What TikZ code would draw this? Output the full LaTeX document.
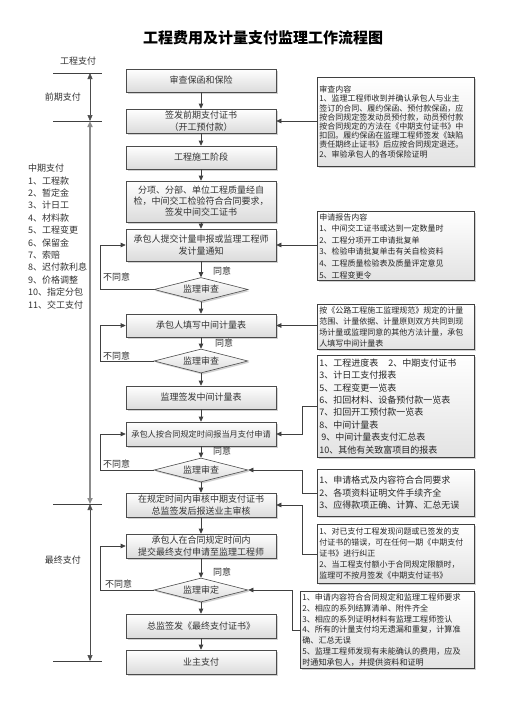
\documentclass[tikz,border=0pt]{standalone}
\usepackage{fontspec}
\setmainfont{Noto Sans CJK SC}
\usetikzlibrary{shapes.geometric,shadows,arrows.meta}
\begin{document}
\begin{tikzpicture}[x=1pt,y=-1pt]
\tikzset{
  shadowed/.style={drop shadow={shadow xshift=1.6pt,shadow yshift=-1.6pt,opacity=0.35}},
  mainbox/.style={shadowed,draw=black!70,line width=0.6pt,top color=white,bottom color=black!14,
    minimum width=150pt,inner sep=1pt,align=center,text=black!80,
    font=\fontsize{9}{11.5}\selectfont},
  dia/.style={shadowed,diamond,draw=black!70,line width=0.6pt,top color=white,bottom color=black!14,
    minimum width=94pt,minimum height=24pt,aspect=3.9,inner sep=0pt,text=black!80,
    font=\fontsize{9}{11}\selectfont},
  notebox/.style={shadowed,draw=black!75,line width=0.6pt,top color=white,bottom color=black!11,
    anchor=north west,align=left,inner xsep=2pt,inner ysep=2pt,text width=153pt,text=black!85},
  link/.style={draw=black!75,line width=0.6pt,-{Triangle[length=5pt,width=4.5pt]}},
  axisline/.style={draw=black!70,line width=0.6pt,{Triangle[length=6pt,width=5pt]}-{Triangle[length=6pt,width=5pt]}},
  tickline/.style={draw=black!75,line width=0.6pt},
  lbl/.style={text=black!80,font=\fontsize{9}{11}\selectfont,inner sep=0pt},
}
\fill[white] (0,0) rectangle (504,713);
\useasboundingbox (0,0) rectangle (504,713);

% title
\node[font=\fontsize{15}{15}\selectfont\bfseries,text=black] (title) at (263,38) {工程费用及计量支付监理工作流程图};

% left axis
\node[lbl] (gczf) at (78,61) {工程支付};
\coordinate (a0) at (90,73);
\coordinate (a1) at (90,121);
\coordinate (a2) at (90,504);
\coordinate (a3) at (90,661);
\draw[tickline] (53,73) -- (102,73);
\draw[tickline] (53,121) -- (102,121);
\draw[tickline] (53,504) -- (102,504);
\draw[tickline] (53,661) -- (102,661);
\draw[axisline] (a0) -- (a1);
\draw[axisline,draw=black!45,line width=1.6pt] (a1) -- (a2);
\draw[axisline] (a2) -- (a3);
\node[lbl] (qqzf) at (63,97) {前期支付};
\node[lbl,anchor=north west,align=left,font=\fontsize{9}{12.4}\selectfont] (zqzf) at (28,164)
 {中期支付\\1、工程款\\2、暂定金\\3、计日工\\4、材料款\\5、工程变更\\6、保留金\\7、索赔\\8、迟付款利息\\9、价格调整\\10、指定分包\\11、交工支付};
\node[lbl] (zzzf) at (63,560) {最终支付};

% main column
\node[mainbox,minimum height=23pt] (b1) at (201,80.5) {审查保函和保险};
\node[mainbox,minimum height=24pt] (b2) at (201,121) {签发前期支付证书\\（开工预付款）};
\node[mainbox,minimum height=23pt] (b3) at (201,157.5) {工程施工阶段};
\node[mainbox,minimum height=41pt,font=\fontsize{9}{11}\selectfont] (b4) at (201,201.5) {分项、分部、单位工程质量经自\\检，中间交工检验符合合同要求，\\签发中间交工证书};
\node[mainbox,minimum height=32pt] (b5) at (201,245) {承包人提交计量申报或监理工程师\\发计量通知};
\node[dia] (d1) at (201,289.5) {监理审查};
\node[mainbox,minimum height=23pt] (b6) at (201,325.5) {承包人填写中间计量表};
\node[dia] (d2) at (201,361) {监理审查};
\node[mainbox,minimum height=23pt] (b7) at (201,397.5) {监理签发中间计量表};
\node[mainbox,minimum height=24pt,font=\fontsize{8.2}{10}\selectfont] (b8) at (201,434) {承包人按合同规定时间报当月支付申请};
\node[dia] (d3) at (201,470) {监理审查};
\node[mainbox,minimum height=24pt] (b9) at (201,505) {在规定时间内审核中期支付证书\\总监签发后报送业主审核};
\node[mainbox,minimum height=24pt] (b10) at (201,546) {承包人在合同规定时间内\\提交最终支付申请至监理工程师};
\node[dia] (d4) at (201,590) {监理审定};
\node[mainbox,minimum height=24pt] (b11) at (201,626) {总监签发《最终支付证书》};
\node[mainbox,minimum height=24pt] (b12) at (201,662) {业主支付};

\draw[link] (b1) -- (b2);
\draw[link] (b2) -- (b3);
\draw[link] (b3) -- (b4);
\draw[link] (b4) -- (b5);
\draw[link] (b5) -- (d1);
\draw[link] (d1) -- (b6);
\draw[link] (b6) -- (d2);
\draw[link] (d2) -- (b7);
\draw[link] (b7) -- (b8);
\draw[link] (b8) -- (d3);
\draw[link] (d3) -- (b9);
\draw[link] (b9) -- (b10);
\draw[link] (b10) -- (d4);
\draw[link] (d4) -- (b11);
\draw[link] (b11) -- (b12);

% agree labels
\node[lbl] (ty1) at (222,271) {同意};
\node[lbl] (ty2) at (224,343) {同意};
\node[lbl] (ty3) at (222,451) {同意};
\node[lbl] (ty4) at (222,572) {同意};

% disagree loops
\draw[link] (d1.west) -- ++(-53,0) |- (b5.west);
\draw[link] (d2.west) -- ++(-53,0) |- (b6.west);
\draw[link] (d3.west) -- ++(-53,0) |- (b8.west);
\draw[link] (d4.west) -- ++(-53,0) |- (b10.west);
\node[lbl,anchor=west] (bty1) at (103,277) {不同意};
\node[lbl,anchor=west] (bty2) at (103,356) {不同意};
\node[lbl,anchor=west] (bty3) at (103,464) {不同意};
\node[lbl,anchor=west] (bty4) at (105,584) {不同意};

% right notes
\node[notebox,minimum height=89pt,font=\fontsize{8}{9.2}\selectfont] (r1) at (317,77)
 {审查内容\\1、监理工程师收到并确认承包人与业主\\签订的合同、履约保函、预付款保函，应\\按合同规定签发动员预付款，动员预付款\\按合同规定的方法在《中期支付证书》中\\扣回。履约保函在监理工程师签发《缺陷\\责任期终止证书》后应按合同规定退还。\\2、审验承包人的各项保险证明};
\node[notebox,minimum height=69pt,font=\fontsize{8}{11.6}\selectfont] (r2) at (317,211)
 {申请报告内容\\1、中间交工证书或达到一定数量时\\2、工程分项开工申请批复单\\3、检验申请批复单击有关自检资料\\4、工程质量检验表及质量评定意见\\5、工程变更令};
\node[notebox,minimum height=45pt,font=\fontsize{8}{10.8}\selectfont] (r3) at (317,304)
 {按《公路工程施工监理规范》规定的计量\\范围、计量依据、计量原则双方共同到现\\场计量或监理同意的其他方法计量，承包\\人填写中间计量表};
\node[notebox,minimum height=102pt,font=\fontsize{9}{12.4}\selectfont] (r4) at (317,355)
 {1、工程进度表\hspace{10pt}2、中期支付证书\\3、计日工支付报表\\5、工程变更一览表\\6、扣回材料、设备预付款一览表\\7、扣回开工预付款一览表\\8、中间计量表\\\hspace{2pt}9、中间计量表支付汇总表\\10、其他有关致富项目的报表};
\node[notebox,minimum height=47pt,font=\fontsize{9}{12.3}\selectfont] (r5) at (317,469)
 {1、申请格式及内容符合合同要求\\2、各项资料证明文件手续齐全\\3、应得款项正确、计算、汇总无误};
\node[notebox,minimum height=59pt,font=\fontsize{8}{11}\selectfont] (r6) at (317,524)
 {1、对已支付工程发现问题或已签发的支\\付证书的错误，可在任何一期《中期支付\\证书》进行纠正\\2、当工程支付额小于合同规定限额时，\\监理可不按月签发《中期支付证书》};
\node[notebox,text width=170pt,minimum height=77pt,font=\fontsize{8.1}{10.8}\selectfont] (r7) at (300,591)
 {1、申请内容符合合同规定和监理工程师要求\\2、相应的系列结算清单、附件齐全\\3、相应的系列证明材料有监理工程师签认\\4、所有的计量支付均无遗漏和重复，计算准\\确、汇总无误\\5、监理工程师发现有未能确认的费用，应及\\时通知承包人，并提供资料和证明};

% note connectors
\draw[link] (r1.west |- b2.east) -- (b2.east);
\draw[link] (r2.west |- b5.east) -- (b5.east);
\draw[link] (r3.west |- b6.east) -- (b6.east);
\draw[link] (r4.west) -- ++(-15,0) |- (b8.east);
\draw[link] (r5.west) -- ++(-15,0) |- (d3.east);
\draw[link] (r6.west) -- ++(-15,0) |- (b9.east);
\draw[link] (r7.west) -- ++(-8,0) |- (d4.east);
\end{tikzpicture}
\end{document}
